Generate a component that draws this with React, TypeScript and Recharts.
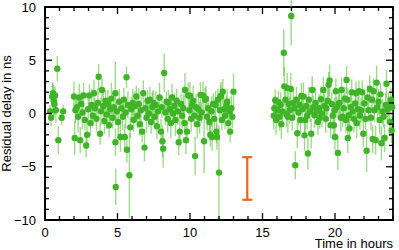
import { ErrorBar, Label, ReferenceArea, Scatter, ScatterChart, XAxis, YAxis } from 'recharts';

// time in hours
const times = [
	0.35, 0.42, 0.5, 0.55, 0.6, 0.65, 0.7, 0.75, 0.85, 0.92, 1.15, 1.25,
	2.0, 2.05, 2.1, 2.2, 2.28, 2.36, 2.43, 2.5, 2.58, 2.66, 2.75, 2.84, 2.9, 2.98,
	3.06, 3.14, 3.22, 3.3, 3.38, 3.45, 3.55, 3.65, 3.7, 3.8, 3.86, 3.93,
	4.02, 4.1, 4.18, 4.26, 4.34, 4.42, 4.5, 4.58, 4.66, 4.74, 4.85, 4.86, 4.88, 4.95,
	5.05, 5.12, 5.2, 5.28, 5.36, 5.44, 5.5, 5.56, 5.62, 5.65, 5.72, 5.82, 5.88, 5.95,
	6.05, 6.12, 6.2, 6.3, 6.38, 6.46, 6.54, 6.62, 6.7, 6.78, 6.86, 6.92,
	7.0, 7.08, 7.16, 7.24, 7.32, 7.4, 7.48, 7.56, 7.64, 7.72, 7.8, 7.9,
	8.0, 8.06, 8.1, 8.15, 8.22, 8.3, 8.38, 8.46, 8.52, 8.6, 8.68, 8.76, 8.84, 8.92,
	9.0, 9.08, 9.16, 9.22, 9.3, 9.38, 9.46, 9.54, 9.62, 9.65, 9.72, 9.8, 9.88, 9.95,
	10.0, 10.08, 10.16, 10.22, 10.3, 10.35, 10.42, 10.5, 10.58, 10.66, 10.72, 10.8, 10.9, 10.97,
	11.04, 11.1, 11.18, 11.26, 11.34, 11.4, 11.48, 11.52, 11.6, 11.68, 11.76, 11.82, 11.86, 11.92,
	12.0, 12.06, 12.1, 12.14, 12.2, 12.26, 12.34, 12.42, 12.5, 12.56, 12.64, 12.72, 12.77, 12.85, 12.92, 13.0,
	15.78, 15.82, 15.88, 15.94, 16.02, 16.1, 16.18, 16.25, 16.3, 16.38, 16.47, 16.5, 16.58, 16.65, 16.7, 16.75, 16.82, 16.88, 16.95, 16.98,
	17.05, 17.12, 17.2, 17.26, 17.34, 17.4, 17.48, 17.56, 17.62, 17.68, 17.75, 17.82, 17.9, 17.95,
	18.02, 18.08, 18.13, 18.2, 18.28, 18.36, 18.43, 18.5, 18.58, 18.66, 18.75, 18.82, 18.9, 18.95,
	19.03, 19.1, 19.2, 19.28, 19.36, 19.4, 19.5, 19.56, 19.63, 19.7, 19.78, 19.85, 19.92, 19.98,
	20.0, 20.06, 20.13, 20.2, 20.25, 20.32, 20.4, 20.45, 20.52, 20.6, 20.68, 20.75, 20.8, 20.85, 20.88, 20.95,
	21.0, 21.08, 21.15, 21.22, 21.3, 21.4, 21.45, 21.5, 21.58, 21.65, 21.72, 21.8, 21.88, 21.95,
	22.02, 22.1, 22.18, 22.25, 22.32, 22.4, 22.48, 22.55, 22.6, 22.66, 22.72, 22.8, 22.87, 22.93,
	23.0, 23.08, 23.14, 23.2, 23.28, 23.35, 23.42, 23.5, 23.55, 23.62, 23.7, 23.78, 23.85, 23.9, 23.95,
];

// residual delay in ns
const delays = [
	0.2, -0.4, 1.6, 1.9, 1.2, 0.9, 1.7, 0.3, 4.2, -2.5, -0.4, 0.2,
	1.6, -2.3, 0.3, 0.6, -0.3, 1.5, -2.5, 0.9, 0.1, 1.7, -0.6, -3.0, -2.0, 0.4,
	1.7, -0.9, 0.8, -0.2, 1.9, 0.5, -0.5, 1.0, 3.45, -1.9, 0.2, 2.2,
	0.7, -0.7, 1.2, -0.1, 0.9, -1.1, 0.4, 1.4, -0.4, 0.6, 1.9, -2.7, -6.9, 0.2,
	-0.8, 1.1, -2.2, 0.5, -0.3, 1.3, -2.2, 0.1, 3.4, -3.4, 0.8, -5.8, -1.3, 0.4,
	1.0, -0.6, 0.7, 1.6, -0.2, 0.9, -1.0, 0.3, -1.7, 1.9, -3.2, 0.5,
	-0.4, 1.2, 0.0, 1.3, -0.8, 0.6, 1.0, -0.3, 0.8, -1.2, 0.2, 1.5,
	-1.7, 0.6, -2.6, -3.3, 3.8, 0.1, 1.1, -0.5, 1.0, 0.4, -0.9, 1.5, 0.0, 0.7,
	-0.6, 1.2, 0.2, -2.7, -1.7, 0.9, -0.2, 0.5, -0.9, 2.2, -2.5, -1.7, 1.7, 0.3,
	1.65, -0.5, 0.8, 1.2, -0.2, -4.0, 0.6, -1.0, 0.4, -0.4, 1.75, 0.1, 1.7, -2.6,
	1.3, 1.4, -0.3, 0.5, -0.8, -2.0, 0.2, -2.2, 0.9, -0.5, 0.8, -1.7, -2.2, 1.3,
	-5.55, 0.3, 1.6, 1.65, -0.6, 2.05, 0.4, -0.2, 0.7, 1.1, -0.9, 0.2, -1.7, 0.5, -0.3, 2.05,
	-0.2, 0.5, 1.25, -0.6, 0.3, 1.05, -0.3, 0.8, -1.0, 0.2, 5.7, 2.55, 1.3, -0.1, 2.4, -0.3, 0.9, 0.3, 2.3, 9.15,
	-0.4, 1.0, 0.5, -4.85, 1.3, -1.85, 0.1, 0.8, -0.6, 1.65, 0.4, 1.6, -2.05, -0.6,
	0.7, -0.2, -3.75, 1.3, 0.2, -1.9, 2.2, 0.6, -0.15, 1.0, 0.2, -0.8, 0.5, -0.4,
	1.35, 0.0, 2.2, 0.7, -0.5, 0.5, 1.2, 2.7, 3.1, -1.1, 0.9, -0.2, -1.1, 0.3,
	-2.2, 2.1, 0.6, -3.7, 0.95, 1.0, -0.4, 2.2, -0.3, 0.5, 1.4, -0.6, 3.15, 1.3, -2.3, -0.15,
	-1.4, 0.6, 2.0, 0.2, -0.5, 0.95, 1.9, -0.9, 0.4, 2.1, -0.2, 0.3, 2.0, -1.9,
	0.95, -0.5, -3.5, 1.5, 0.3, 2.3, -0.4, 1.3, -2.4, 2.1, 0.3, -2.5, 2.9, 0.6,
	1.1, -0.6, 1.8, -2.8, 0.2, -0.3, -2.3, 0.8, 2.8, 0.4, 0.8, -0.8, 1.3, -1.6, 0.6,
];

// 1-sigma uncertainty in ns
const errors = [
	0.6, 0.8, 1.3, 1.0, 1.5, 1.1, 0.8, 1.2, 1.2, 1.3, 0.7, 0.6,
	1.4, 1.6, 1.2, 1.0, 1.5, 1.3, 1.2, 1.1, 1.6, 1.2, 1.0, 1.1, 1.3, 1.4,
	1.0, 1.2, 1.5, 1.1, 1.3, 0.9, 1.2, 1.4, 1.2, 1.0, 1.3, 1.1,
	1.5, 1.2, 1.0, 1.4, 1.3, 1.1, 1.2, 1.5, 1.0, 1.2, 3.0, 1.3, 1.7, 1.1,
	1.4, 1.2, 1.4, 1.0, 1.3, 1.1, 1.2, 1.5, 1.0, 1.2, 1.3, 4.0, 1.0, 1.2,
	1.3, 1.1, 1.4, 1.0, 1.2, 1.5, 1.1, 1.3, 1.0, 1.2, 1.3, 1.1,
	1.4, 1.0, 1.3, 1.2, 1.1, 1.5, 1.2, 1.0, 1.3, 1.2, 1.1, 1.4,
	1.2, 1.0, 1.5, 1.8, 1.8, 1.2, 1.0, 1.3, 1.2, 1.1, 1.4, 1.3, 1.0, 1.2,
	1.5, 1.1, 1.3, 1.2, 1.4, 1.0, 1.2, 1.3, 1.1, 1.6, 1.3, 1.1, 1.2, 1.0,
	1.3, 1.2, 1.1, 1.4, 1.0, 1.8, 1.2, 1.3, 1.1, 1.5, 1.2, 1.0, 1.3, 3.0,
	1.1, 1.2, 1.3, 1.0, 1.2, 1.1, 1.4, 1.3, 1.0, 1.2, 1.3, 1.1, 1.2, 1.0,
	4.45, 1.2, 1.1, 1.3, 1.0, 1.2, 1.1, 1.3, 1.0, 1.2, 1.1, 1.3, 1.0, 1.2, 1.1, 1.7,
	1.3, 1.1, 1.0, 1.4, 1.2, 1.1, 1.3, 1.2, 1.4, 1.1, 2.2, 1.8, 1.3, 1.2, 1.4, 1.5, 1.1, 1.3, 1.5, 2.8,
	1.2, 1.3, 1.1, 1.3, 1.2, 1.4, 1.2, 1.0, 1.3, 1.2, 1.1, 1.3, 1.5, 1.2,
	1.1, 1.3, 1.5, 1.2, 1.0, 1.4, 1.3, 1.1, 1.2, 1.4, 1.1, 1.2, 1.3, 1.0,
	1.2, 1.3, 1.2, 1.1, 1.3, 1.0, 1.4, 1.2, 1.5, 1.2, 1.1, 1.3, 1.0, 1.2,
	1.3, 1.2, 1.0, 1.6, 1.2, 1.1, 1.3, 1.2, 1.0, 1.3, 1.1, 1.2, 1.3, 1.1, 1.4, 1.2,
	1.1, 1.3, 1.2, 1.0, 1.3, 1.2, 1.1, 1.4, 1.2, 1.0, 1.3, 1.2, 1.1, 1.3,
	1.2, 1.0, 2.0, 1.2, 1.1, 1.3, 1.2, 1.0, 1.3, 1.2, 1.1, 1.4, 1.6, 1.1,
	1.2, 1.3, 1.1, 1.6, 1.2, 1.0, 1.3, 1.2, 1.3, 1.1, 1.2, 1.3, 1.1, 1.2, 1.0,
];

// calibration uncertainty marker (orange bar)
const calibTime = [13.95];
const calibDelay = [-6.1];
const calibError = [2.0];

const xTicks = Array.from({ length: 25 }, (_, i) => i);
const yTicks = Array.from({ length: 21 }, (_, i) => i - 10);

const FONT = '"Liberation Sans", Arial, sans-serif';
const GREEN = '#3fb426';
const ORANGE = '#e8671c';

// plot box size in pixels, used to mirror the ticks onto the top and right edges
const PLOT_W = 348;
const PLOT_H = 213;

const residuals = times.map((t, i) => ({ t, v: delays[i], err: errors[i] }));
const calib = calibTime.map((t, i) => ({ t, v: calibDelay[i], err: calibError[i] }));

const fmt = (v: number) => (v < 0 ? `\u2212${Math.abs(v)}` : `${v}`);

const XTick = (props: any) => {
	const { x, y, payload } = props;
	const val = payload.value as number;
	const major = val % 5 === 0;
	const len = major ? 7 : 4;
	const top = y - PLOT_H;
	return (
		<g stroke="#000" strokeWidth={1.3}>
			<line x1={x} y1={y} x2={x} y2={y - len} />
			<line x1={x} y1={top} x2={x} y2={top + len} />
			{major && (
				<text x={x} y={y + 17} textAnchor="middle" fontSize={13} fontFamily={FONT} fill="#000" stroke="none">
					{fmt(val)}
				</text>
			)}
		</g>
	);
};

const YTick = (props: any) => {
	const { x, y, payload } = props;
	const val = payload.value as number;
	const major = val % 5 === 0;
	const len = major ? 7 : 4;
	const right = x + PLOT_W;
	return (
		<g stroke="#000" strokeWidth={1.3}>
			<line x1={x} y1={y} x2={x + len} y2={y} />
			<line x1={right} y1={y} x2={right - len} y2={y} />
			{major && (
				<text x={x - 9} y={y + 4.6} textAnchor="end" fontSize={13} fontFamily={FONT} fill="#000" stroke="none">
					{fmt(val)}
				</text>
			)}
		</g>
	);
};

const Dot = (p: any) => <circle cx={p.cx} cy={p.cy} r={3.2} fill={GREEN} />;
const NoDot = () => <g />;

const axisLine = { stroke: '#000', strokeWidth: 1.5 };

export default function App() {
	return (
		<div style={{ position: 'absolute', left: 0, top: 0, width: 399, height: 250, background: '#fff' }}>
			<ScatterChart width={399} height={250} margin={{ top: 7, right: 6, bottom: 0, left: 0 }}>
				{/* full plot frame */}
				<ReferenceArea
					x1={0}
					x2={24}
					y1={-10}
					y2={10}
					fill="none"
					fillOpacity={0}
					stroke="#000"
					strokeWidth={1.8}
					strokeOpacity={1}
					ifOverflow="visible"
				/>
				<XAxis
					dataKey="t"
					type="number"
					domain={[0, 24]}
					ticks={xTicks}
					interval={0}
					tickSize={0}
					tickMargin={0}
					height={30}
					axisLine={axisLine}
					tick={XTick}
				>
					<Label
						content={() => (
							<text x={393} y={248} textAnchor="end" fontSize={13} fontFamily={FONT} fill="#000">
								Time in hours
							</text>
						)}
					/>
				</XAxis>
				<YAxis
					dataKey="v"
					type="number"
					domain={[-10, 10]}
					allowDataOverflow
					ticks={yTicks}
					interval={0}
					tickSize={0}
					tickMargin={0}
					width={45}
					axisLine={axisLine}
					tick={YTick}
				>
					<Label
						content={() => (
							<text
								x={11}
								y={113.5}
								transform="rotate(-90 11 113.5)"
								textAnchor="middle"
								fontSize={13}
								fontFamily={FONT}
								fill="#000"
							>
								Residual delay in ns
							</text>
						)}
					/>
				</YAxis>
				<Scatter data={residuals} dataKey="v" shape={Dot} isAnimationActive={false}>
					<ErrorBar
						dataKey="err"
						direction="y"
						width={0}
						stroke="#5cc23c"
						strokeOpacity={0.6}
						strokeWidth={1.4}
						isAnimationActive={false}
					/>
				</Scatter>
				<Scatter data={calib} dataKey="v" shape={NoDot} isAnimationActive={false}>
					<ErrorBar
						dataKey="err"
						direction="y"
						width={5}
						stroke={ORANGE}
						strokeWidth={2.2}
						isAnimationActive={false}
					/>
				</Scatter>
			</ScatterChart>
		</div>
	);
}
